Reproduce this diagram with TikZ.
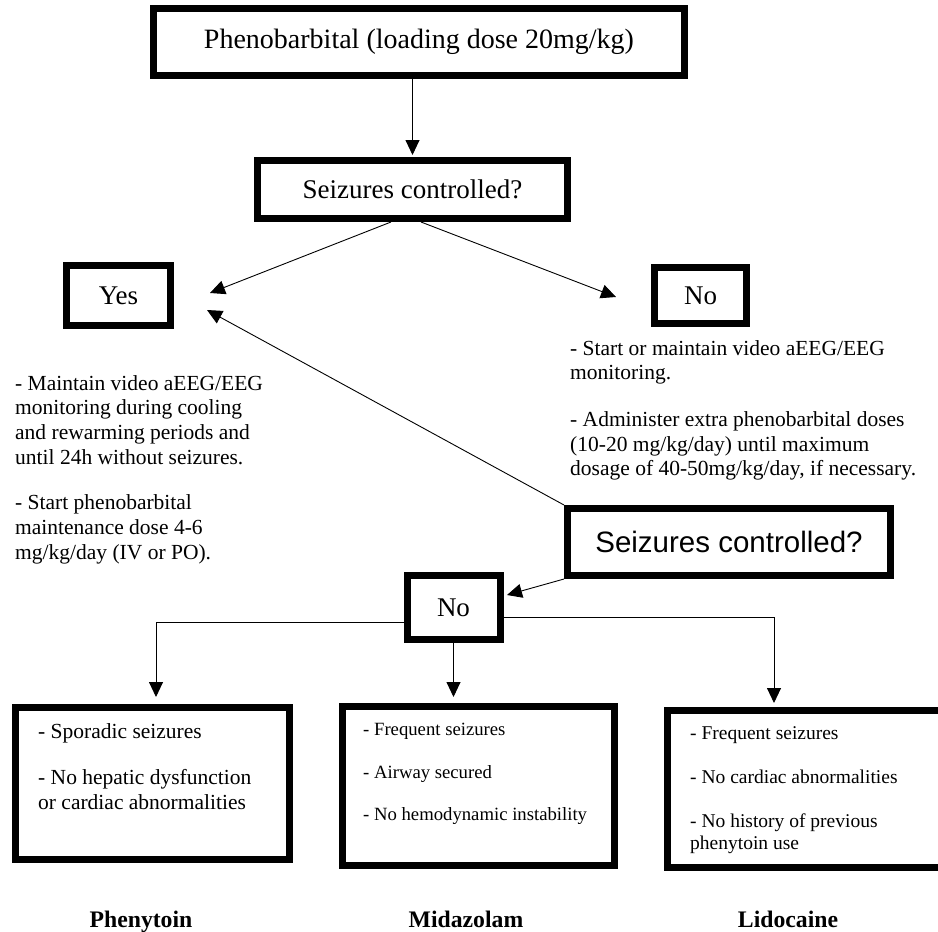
\documentclass[tikz,border=0pt]{standalone}
\usepackage{fontspec}
\setmainfont{Liberation Serif}
\setsansfont{Liberation Sans}
\usetikzlibrary{positioning, arrows.meta}
\tikzstyle{arrow} = [line width=0.9pt,-{Triangle[length=15pt,width=14pt]}]
\tikzstyle{box} = [draw, line width=7pt, inner sep=0pt, align=center]
\tikzstyle{note} = [inner sep=0pt, align=left, anchor=north west]
\tikzstyle{drug} = [inner sep=0pt, anchor=base, font=\fontsize{23.7}{27}\selectfont\bfseries]

\begin{document}
\begin{tikzpicture}[x=1pt, y=-1pt]
        \useasboundingbox (0,0) rectangle (938,932);
        % boxes
        \node[box, minimum width=531, minimum height=67, font=\fontsize{28}{32}\selectfont] (P) at (419,42) {Phenobarbital (loading dose 20mg/kg)};
        \node[box, minimum width=310, minimum height=58, font=\fontsize{27}{31}\selectfont] (S1) at (412.5,189.5) {Seizures controlled?};
        \node[box, minimum width=104, minimum height=60, font=\fontsize{27}{31}\selectfont] (Y) at (118.5,295.5) {Yes};
        \node[box, minimum width=92, minimum height=56, font=\fontsize{27}{31}\selectfont] (N) at (700.5,295.5) {No};
        \node[box, minimum width=323, minimum height=67, font=\sffamily\fontsize{29.5}{34}\selectfont] (S2) at (729,542) {Seizures controlled?};
        \node[box, minimum width=93, minimum height=64, font=\fontsize{27}{31}\selectfont] (N2) at (453.5,607.5) {No};
        \node[box, minimum width=274, minimum height=152] (B1) at (152.5,783.5) {};
        \node[box, minimum width=272, minimum height=159] (B2) at (478.5,786) {};
        \node[box, minimum width=277, minimum height=157] (B3) at (806,789) {};

        % texts
        \node[note, font=\fontsize{21.5}{24.7}\selectfont] (Ytext) at (15,375) {- Maintain video aEEG/EEG\\ monitoring during cooling\\ and rewarming periods and\\ until 24h without seizures.\\[21pt] - Start phenobarbital\\ maintenance dose 4-6\\ mg/kg/day (IV or PO).};
        \node[note, font=\fontsize{21.5}{24.7}\selectfont] (Ntext) at (570,340) {- Start or maintain video aEEG/EEG\\ monitoring.\\[22pt] - Administer extra phenobarbital doses\\ (10-20 mg/kg/day) until maximum\\ dosage of 40-50mg/kg/day, if necessary.};
        \node[note, font=\fontsize{21.5}{24.7}\selectfont, below right=19pt and 26pt of B1.north west] (B1text) {- Sporadic seizures\\[22pt] - No hepatic dysfunction\\ or cardiac abnormalities};
        \node[note, font=\fontsize{18.7}{21.5}\selectfont, below right=20pt and 24pt of B2.north west] (B2text) {- Frequent seizures\\[21pt] - Airway secured\\[21pt] - No hemodynamic instability};
        \node[note, font=\fontsize{19.5}{22.4}\selectfont, below right=19pt and 26pt of B3.north west] (B3text) {- Frequent seizures\\[21.6pt] - No cardiac abnormalities\\[21.6pt] - No history of previous\\ phenytoin use};

        \node[drug] (phen) at (141,927) {Phenytoin};
        \node[drug] (mida) at (466,927) {Midazolam};
        \node[drug] (lido) at (788,927) {Lidocaine};

        % free ends of the arrows
        \coordinate (yesA) at (210,293);
        \coordinate (yesB) at (207,310);
        \coordinate (noA) at (616,297);
        \coordinate (noB) at (507,595);

        % arrows
        \draw[arrow, shorten >=2pt] (S1.north |- P.south) -- (S1.north);
        \draw[arrow] ([xshift=-21.5pt]S1.south) -- (yesA);
        \draw[arrow] ([xshift=8.5pt]S1.south) -- (noA);
        \draw[arrow] (S2.north west) -- (yesB);
        \draw[arrow] (S2.south west) -- (noB);
        \draw[arrow, shorten >=7pt] ([yshift=-15pt]N2.west) -| ([xshift=3.5pt]B1.north);
        \draw[arrow, shorten >=6pt] (N2.south) -- (N2.south |- B2.north);
        \draw[arrow, shorten >=4pt] ([yshift=-10pt]N2.east) -| ([xshift=-32pt]B3.north);
      \end{tikzpicture}
\end{document}
